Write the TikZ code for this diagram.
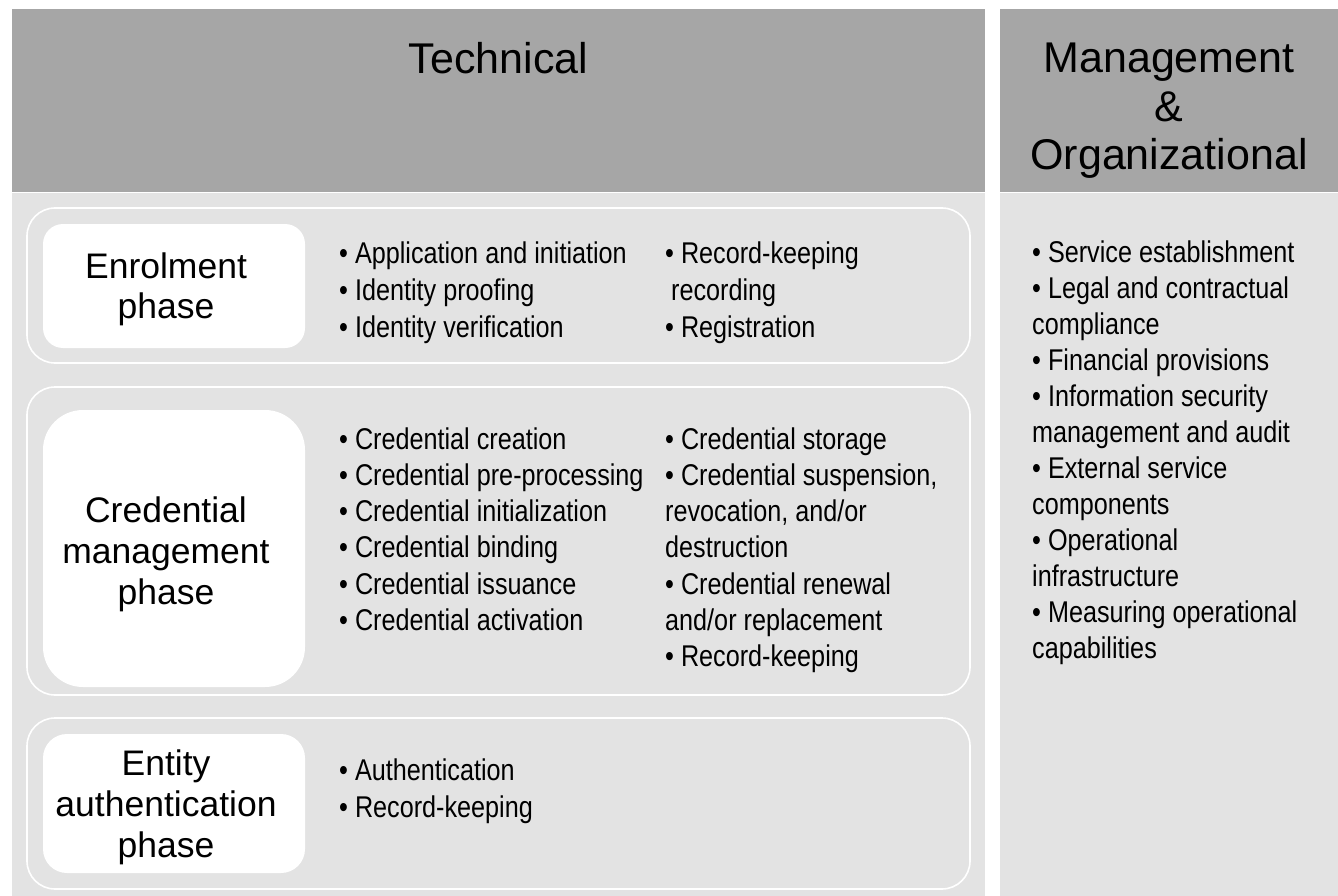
\documentclass[tikz,border=0pt]{standalone}
\usepackage{fontspec}
\setmainfont{Liberation Sans}
\newfontfamily\narrowfont[FakeStretch=0.84]{Liberation Sans}
\definecolor{hdr}{HTML}{A6A6A6}
\definecolor{bdy}{HTML}{E3E3E3}
\begin{document}
\begin{tikzpicture}[x=1pt,y=-1pt,
  hdrbox/.style={fill=hdr, draw=none},
  bodybox/.style={fill=bdy, draw=none},
  phasebox/.style={draw=white, line width=1.6pt, rounded corners=28pt},
  ttl/.style={font=\fontsize{43}{48.5}\selectfont, inner sep=0, anchor=base},
  lbl/.style={font=\fontsize{35.5}{41}\selectfont, inner sep=0, anchor=base},
  bul/.style={font=\narrowfont\fontsize{30}{36}\selectfont, inner sep=0, anchor=base west}]
\useasboundingbox (0,0) rectangle (1338,896);
\fill[white] (0,0) rectangle (1338,896);
% column panels
\fill[hdrbox] (12,9) rectangle (985,192);
\fill[bodybox] (12,193.5) rectangle (985,896);
\fill[hdrbox] (1000,9) rectangle (1338,192);
\fill[bodybox] (1000,193.5) rectangle (1338,896);
% headers
\node[ttl] (tech) at (498.5,74) {Technical};
\node[ttl] (mgmt1) at (1169,73) {Management};
\node[ttl] (mgmt2) at (1169,121.5) {\&};
\node[ttl] (mgmt3) at (1169,170) {Organizational};
% phase frames
\draw[phasebox] (27,208) rectangle (970,363);
\draw[phasebox] (27,387) rectangle (970,695);
\draw[phasebox] (27,718) rectangle (970,889);
% label boxes
\fill[white, rounded corners=20pt] (43,224) rectangle (305,348);
\fill[white, rounded corners=40pt] (43,410) rectangle (305,687);
\fill[white, rounded corners=24pt] (43,734) rectangle (305,873);
% phase labels
\node[lbl] (en1) at (166,278) {Enrolment};
\node[lbl] (en2) at (166,318) {phase};
\node[lbl] (cm1) at (166,522) {Credential};
\node[lbl] (cm2) at (166,563) {management};
\node[lbl] (cm3) at (166,604) {phase};
\node[lbl] (ea1) at (166,775) {Entity};
\node[lbl] (ea2) at (166,816) {authentication};
\node[lbl] (ea3) at (166,857) {phase};
% enrolment items
\foreach \t [count=\i] in {{• Application and initiation},{• Identity proofing},{• Identity verification}}
  \node[bul] (enA\i) at (339,{263+37*(\i-1)}) {\t};
\node[bul] (enB1) at (665,263) {• Record-keeping};
\node[bul] (enB2) at (671,300) {recording};
\node[bul] (enB3) at (665,337) {• Registration};
% credential items
\foreach \t [count=\i] in {{• Credential creation},{• Credential pre-processing},{• Credential initialization},{• Credential binding},{• Credential issuance},{• Credential activation}}
  \node[bul] (cmA\i) at (339,{449+36.3*(\i-1)}) {\t};
\foreach \t [count=\i] in {{• Credential storage},{• Credential suspension,},{revocation, and/or},{destruction},{• Credential renewal},{and/or replacement},{• Record-keeping}}
  \node[bul] (cmB\i) at (665,{449+36.3*(\i-1)}) {\t};
% entity authentication items
\node[bul] (eaA1) at (339,780) {• Authentication};
\node[bul] (eaA2) at (339,817) {• Record-keeping};
% management items
\foreach \t [count=\i] in {{• Service establishment},{• Legal and contractual},{compliance},{• Financial provisions},{• Information security},{management and audit},{• External service},{components},{• Operational},{infrastructure},{• Measuring operational},{capabilities}}
  \node[bul] (mo\i) at (1032,{262+36*(\i-1)}) {\t};
\end{tikzpicture}
\end{document}
